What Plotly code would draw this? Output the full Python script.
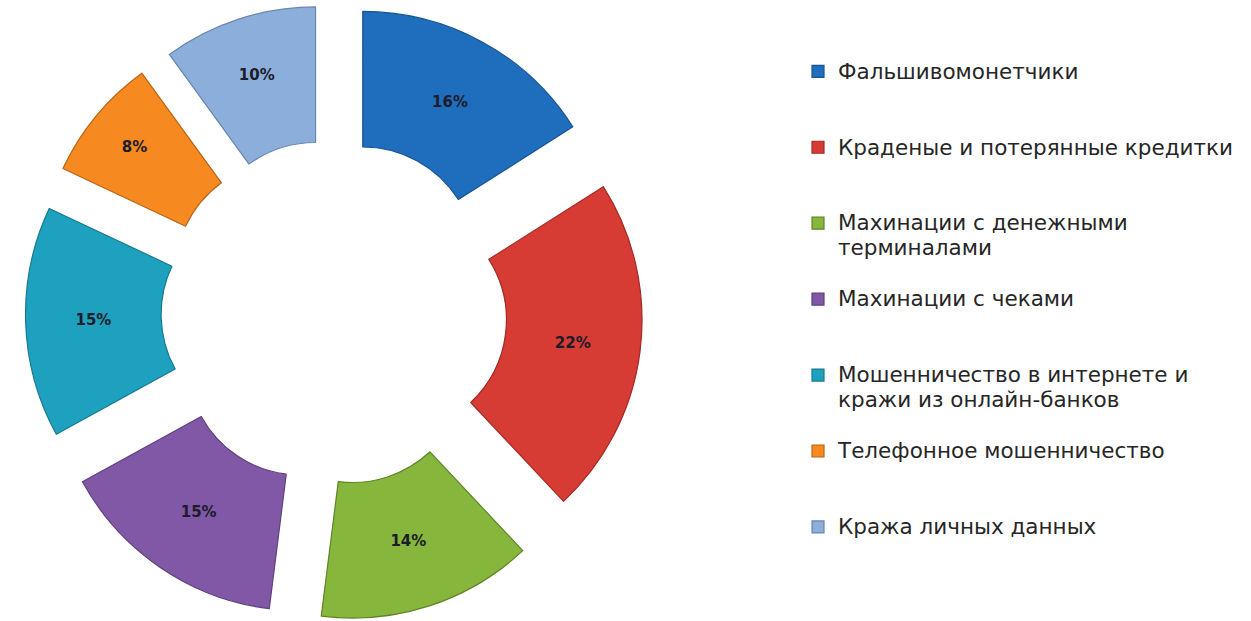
import plotly.graph_objects as go

categories = [
    "Фальшивомонетчики",
    "Краденые и потерянные кредитки",
    "Махинации с денежными\nтерминалами",
    "Махинации с чеками",
    "Мошенничество в интернете и\nкражи из онлайн-банков",
    "Телефонное мошенничество",
    "Кража личных данных",
]
values = [16, 22, 14, 15, 15, 8, 10]
colors = ["#1F6EBE", "#D63B34", "#86B63C", "#8058A6", "#1EA1BE", "#F6891F", "#8CAEDB"]
edge_colors = ["#17558F", "#A12C27", "#5F842A", "#5E4080", "#157A90", "#B8651A", "#6A86AD"]

# legend entries padded to equal height (3 lines each); glyphs slightly larger than line pitch
legend_labels = []
for i, c in enumerate(categories):
    lines = ['<span style="font-size:21.5px">' + ln + "</span>" for ln in c.split("\n")]
    if i < len(categories) - 1:
        lines += ["\u00a0"] * (3 - len(lines))
    legend_labels.append("<br>".join(lines))

clean_names = [c.replace("\n", " ") for c in categories]

fig = go.Figure(
    go.Pie(
        labels=legend_labels,
        values=values,
        customdata=clean_names,
        sort=False,
        direction="clockwise",
        rotation=0,
        hole=0.455,
        pull=[0.24] * len(values),
        marker=dict(colors=colors, line=dict(color=edge_colors, width=1.2)),
        textinfo="percent",
        textposition="inside",
        insidetextorientation="horizontal",
        textfont=dict(family="DejaVu Sans", size=15, color="#1c1c2a", weight="bold"),
        hovertemplate="%{customdata}: %{percent}<extra></extra>",
        domain=dict(x=[0, 668 / 1251], y=[0, 1]),
    )
)

fig.update_layout(
    width=1251,
    height=621,
    margin=dict(l=0, r=0, t=4, b=0),
    paper_bgcolor="white",
    plot_bgcolor="white",
    showlegend=True,
    legend=dict(
        x=798 / 1251,
        xanchor="left",
        y=1 - 49 / 621,
        yanchor="top",
        valign="top",
        font=dict(family="DejaVu Sans", size=18.7, color="#262626"),
        bgcolor="rgba(0,0,0,0)",
    ),
)

fig.write_html("out.html")
